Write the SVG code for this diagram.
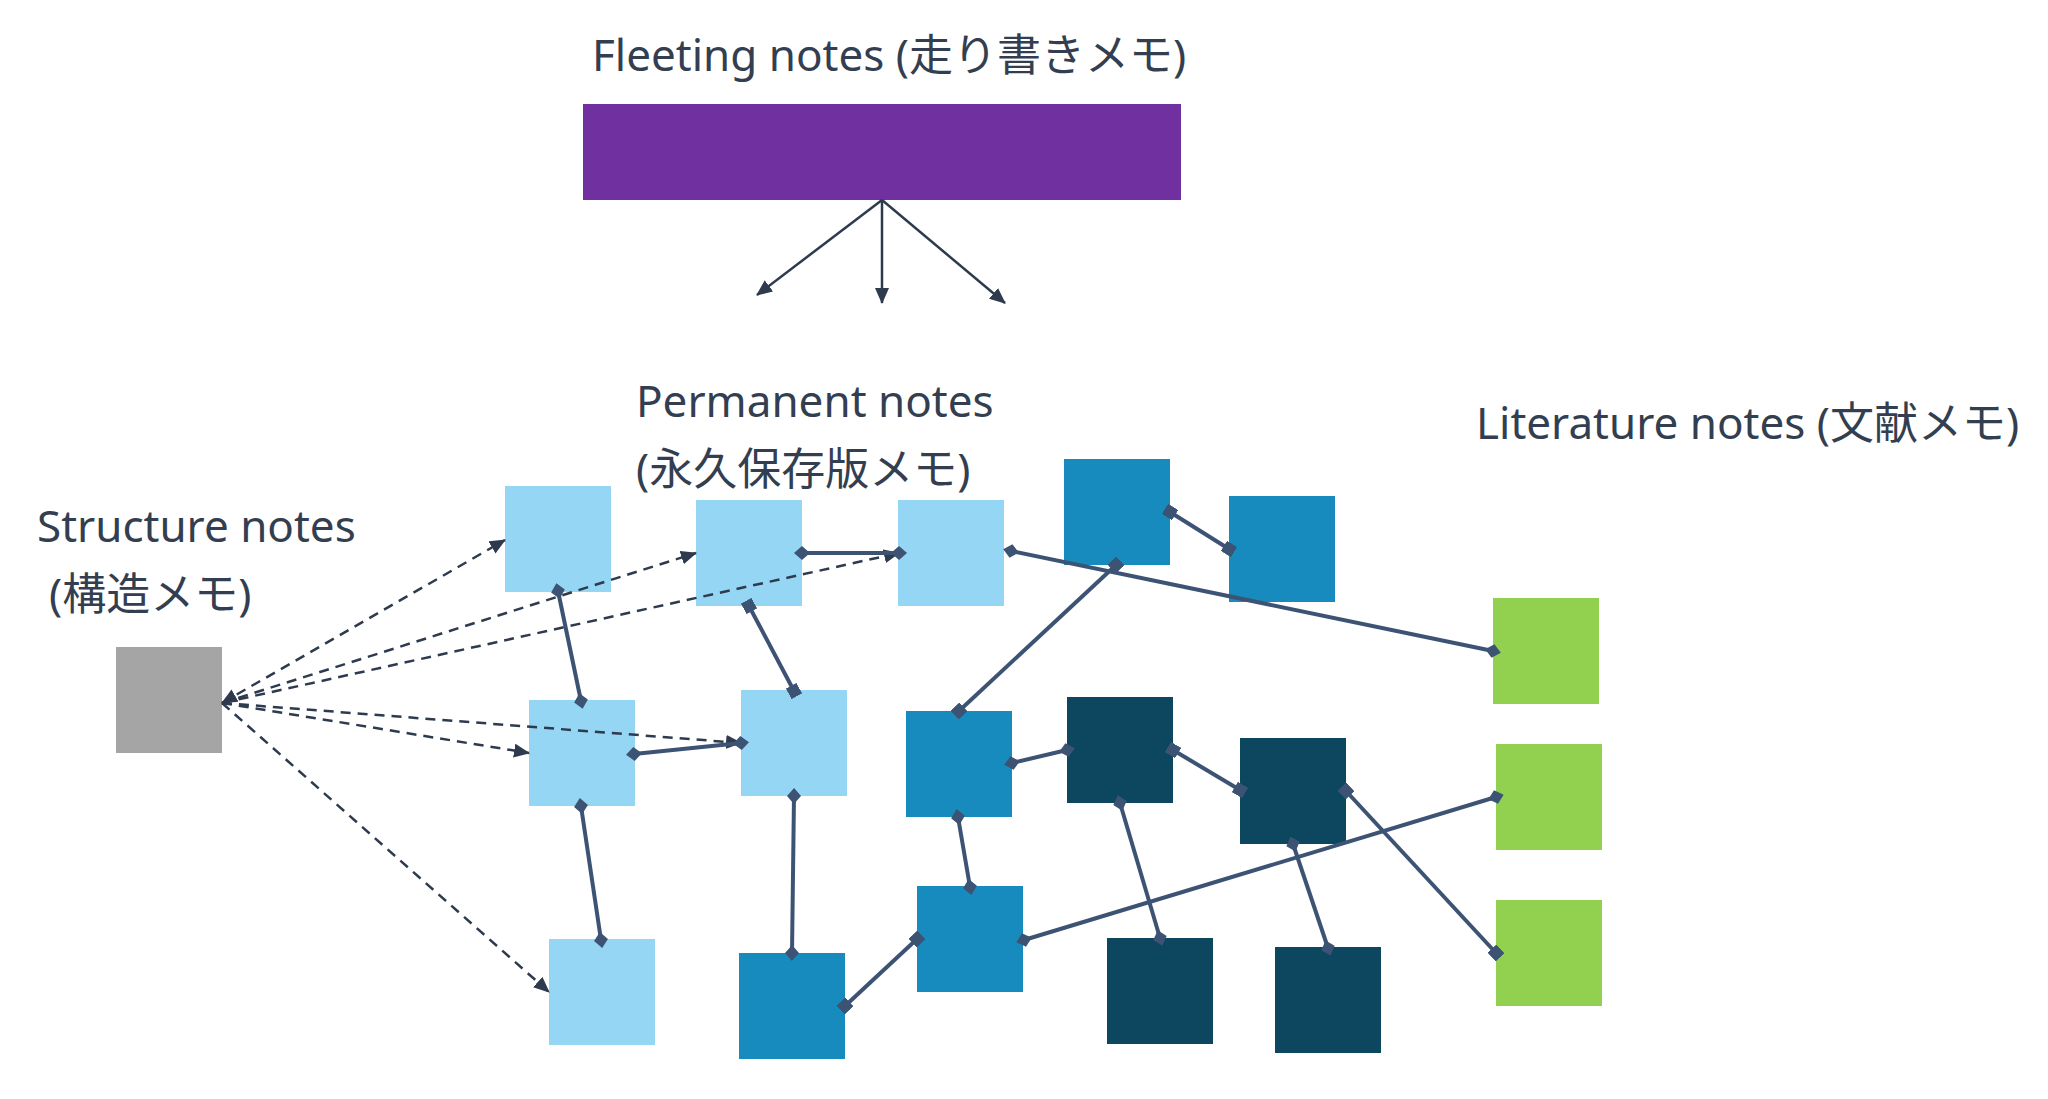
<svg xmlns="http://www.w3.org/2000/svg" width="2048" height="1099" viewBox="0 0 2048 1099">
<style>
.lbl{font-family:"Noto Sans","Noto Sans CJK JP",sans-serif;font-size:44px;fill:#333F50}
.lb{fill:#94D6F3}
.mb{fill:#178BBD}
.db{fill:#0D465F}
.gr{fill:#92D050}
.gy{fill:#A5A5A5}
.solid{stroke:#3D5374;stroke-width:4;fill:none}
.dash{stroke:#2E3A4E;stroke-width:2.5;fill:none;stroke-dasharray:10 7}
.fl{stroke:#2E3A4E;stroke-width:2.5;fill:none}
</style>
<defs>
<marker id="arr" markerUnits="userSpaceOnUse" markerWidth="16" markerHeight="14" refX="15" refY="7" orient="auto-start-reverse">
<path d="M0,0 L16,7 L0,14 z" fill="#2E3A4E"/>
</marker>
<marker id="dia" markerUnits="userSpaceOnUse" markerWidth="16" markerHeight="14" refX="8" refY="7" orient="auto">
<path d="M0,7 L8,0 L16,7 L8,14 z" fill="#3D5374"/>
</marker>
<marker id="sq" markerUnits="userSpaceOnUse" markerWidth="12" markerHeight="12" refX="6" refY="6" orient="auto">
<rect x="0" y="0" width="12" height="12" fill="#3D5374"/>
</marker>
</defs>
<rect width="2048" height="1099" fill="#FFFFFF"/>

<g id="fleeting">
<text class="lbl" x="592" y="71">Fleeting notes (走り書きメモ)</text>
<rect x="583" y="104" width="598" height="96" fill="#7030A0"/>
</g>
<g id="labels">
<text class="lbl" x="636" y="417">Permanent notes</text>
<text class="lbl" x="636" y="485">(永久保存版メモ)</text>
<text class="lbl" x="1476" y="439">Literature notes (文献メモ)</text>
<text class="lbl" x="37" y="542">Structure notes</text>
<text class="lbl" x="49" y="610">(構造メモ)</text>
</g>

<g id="structure"><rect class="gy" x="116" y="647" width="106" height="106"/></g>
<g id="A1"><rect class="lb" x="505" y="486" width="106" height="106"/></g>
<g id="A2"><rect class="lb" x="696" y="500" width="106" height="106"/></g>
<g id="A3"><rect class="lb" x="898" y="500" width="106" height="106"/></g>
<g id="B1"><rect class="lb" x="529" y="700" width="106" height="106"/></g>
<g id="B2"><rect class="lb" x="741" y="690" width="106" height="106"/></g>
<g id="C1"><rect class="lb" x="549" y="939" width="106" height="106"/></g>
<g id="D1"><rect class="mb" x="1064" y="459" width="106" height="106"/></g>
<g id="D2"><rect class="mb" x="1229" y="496" width="106" height="106"/></g>
<g id="D3"><rect class="mb" x="906" y="711" width="106" height="106"/></g>
<g id="D4"><rect class="mb" x="917" y="886" width="106" height="106"/></g>
<g id="D5"><rect class="mb" x="739" y="953" width="106" height="106"/></g>
<g id="E1"><rect class="db" x="1067" y="697" width="106" height="106"/></g>
<g id="E2"><rect class="db" x="1240" y="738" width="106" height="106"/></g>
<g id="E3"><rect class="db" x="1107" y="938" width="106" height="106"/></g>
<g id="E4"><rect class="db" x="1275" y="947" width="106" height="106"/></g>
<g id="F1"><rect class="gr" x="1493" y="598" width="106" height="106"/></g>
<g id="F2"><rect class="gr" x="1496" y="744" width="106" height="106"/></g>
<g id="F3"><rect class="gr" x="1496" y="900" width="106" height="106"/></g>

<g id="connectors">
<line class="fl" x1="882" y1="200" x2="757" y2="295" marker-end="url(#arr)"/>
<line class="fl" x1="882" y1="200" x2="882" y2="303" marker-end="url(#arr)"/>
<line class="fl" x1="882" y1="200" x2="1005" y2="303" marker-end="url(#arr)"/>

<line class="dash" x1="222" y1="703" x2="505" y2="540" marker-end="url(#arr)" marker-start="url(#arr)"/>
<line class="dash" x1="222" y1="703" x2="696" y2="553" marker-end="url(#arr)"/>
<line class="dash" x1="222" y1="703" x2="899" y2="553" marker-end="url(#arr)"/>
<line class="dash" x1="222" y1="703" x2="741" y2="743" marker-end="url(#arr)"/>
<line class="dash" x1="222" y1="703" x2="529" y2="753" marker-end="url(#arr)"/>
<line class="dash" x1="222" y1="703" x2="549" y2="992" marker-end="url(#arr)"/>

<line class="solid" x1="558" y1="591" x2="581" y2="701" marker-start="url(#dia)" marker-end="url(#dia)"/>
<line class="solid" x1="802" y1="553" x2="899" y2="553" marker-start="url(#dia)" marker-end="url(#dia)"/>
<line class="solid" x1="749" y1="606" x2="794" y2="691" marker-start="url(#sq)" marker-end="url(#sq)"/>
<line class="solid" x1="1011" y1="551" x2="1493" y2="651" marker-start="url(#dia)" marker-end="url(#dia)"/>
<line class="solid" x1="1170" y1="512" x2="1229" y2="549" marker-start="url(#sq)" marker-end="url(#sq)"/>
<line class="solid" x1="1116" y1="565" x2="959" y2="711" marker-start="url(#sq)" marker-end="url(#sq)"/>
<line class="solid" x1="634" y1="754" x2="741" y2="743" marker-start="url(#dia)" marker-end="url(#dia)"/>
<line class="solid" x1="581" y1="806" x2="601" y2="940" marker-start="url(#dia)" marker-end="url(#dia)"/>
<line class="solid" x1="794" y1="796" x2="792" y2="953" marker-start="url(#dia)" marker-end="url(#dia)"/>
<line class="solid" x1="1012" y1="763" x2="1067" y2="750" marker-start="url(#dia)" marker-end="url(#dia)"/>
<line class="solid" x1="958" y1="817" x2="970" y2="887" marker-start="url(#dia)" marker-end="url(#dia)"/>
<line class="solid" x1="1173" y1="750" x2="1240" y2="790" marker-start="url(#sq)" marker-end="url(#sq)"/>
<line class="solid" x1="1120" y1="803" x2="1160" y2="938" marker-start="url(#dia)" marker-end="url(#dia)"/>
<line class="solid" x1="1293" y1="844" x2="1328" y2="948" marker-start="url(#dia)" marker-end="url(#dia)"/>
<line class="solid" x1="1346" y1="791" x2="1496" y2="953" marker-start="url(#sq)" marker-end="url(#sq)"/>
<line class="solid" x1="1024" y1="940" x2="1496" y2="797" marker-start="url(#dia)" marker-end="url(#dia)"/>
<line class="solid" x1="845" y1="1006" x2="917" y2="939" marker-start="url(#sq)" marker-end="url(#sq)"/>
</g>
</svg>
